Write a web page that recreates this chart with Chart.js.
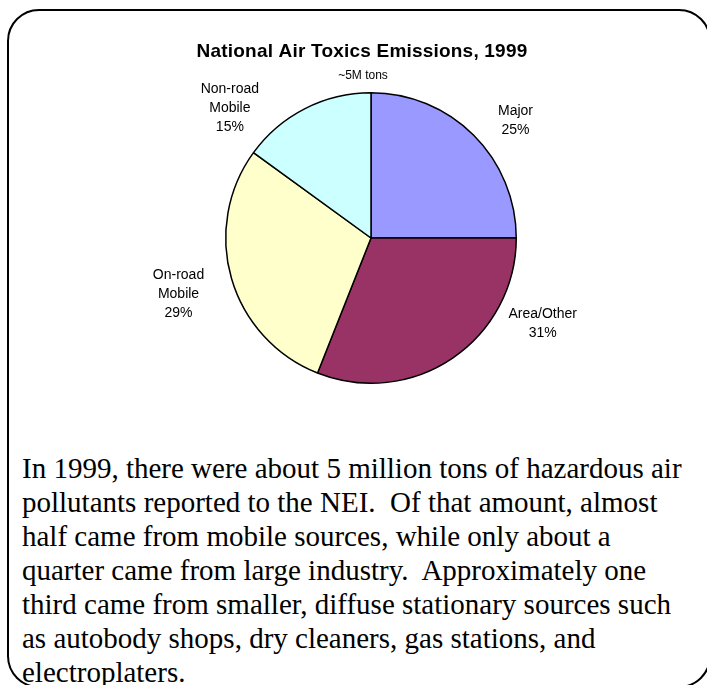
<!DOCTYPE html>
<html>
<head>
<meta charset="utf-8">
<script src="https://cdn.jsdelivr.net/npm/chart.js@4.4.1/dist/chart.umd.min.js"></script>
<style>
    html, body { margin: 0; padding: 0; background: #fff; }
    body { width: 707px; height: 685px; position: relative; overflow: hidden; }
    .frame {
        position: absolute; left: 7px; top: 9px; width: 704px; height: 679px;
        box-sizing: border-box; border: 2.5px solid #000; border-radius: 32px;
    }
    .chart__box { position: absolute; left: 0; top: 0; width: 707px; height: 440px; }
    .summary {
        position: absolute; left: 22px; top: 451px; margin: 0;
        font-family: "Liberation Serif", "Times New Roman", serif;
        font-size: 29px; line-height: 34px; color: #000; white-space: pre;
    }
</style>
</head>
<body>
<div class="frame"></div>
<div class="chart__box"><canvas id="toxicsChart" width="707" height="440"></canvas></div>
<p class="summary">In 1999, there were about 5 million tons of hazardous air
pollutants reported to the NEI.  Of that amount, almost
half came from mobile sources, while only about a
quarter came from large industry.  Approximately one
third came from smaller, diffuse stationary sources such
as autobody shops, dry cleaners, gas stations, and
electroplaters.</p>
<script>
var sources = [['Major'], ['Area/Other'], ['On-road', 'Mobile'], ['Non-road', 'Mobile']];
var shares = [25, 31, 29, 15];
var sliceColors = ['#9999FF', '#993366', '#FFFFCC', '#CCFFFF'];

document.addEventListener('DOMContentLoaded', function () {
    var ctx = document.getElementById('toxicsChart').getContext('2d');

    // where Excel put each label: shift from slice middle (deg) and distance in radii
    var placement = [[6, 1.28], [-29.4, 1.32], [0, 1.38], [-20.4, 1.32]];

    var textPlugin = {
        id: 'textPlugin',
        afterDraw: function (chart) {
            var c = chart.ctx;
            var arcs = chart.getDatasetMeta(0).data;
            c.save();
            c.fillStyle = '#000';
            c.textAlign = 'center';
            c.textBaseline = 'middle';

            c.font = 'bold 19px "Liberation Sans", Arial, sans-serif';
            c.letterSpacing = '0.2px';
            c.fillText('National Air Toxics Emissions, 1999', 362, 52);
            c.letterSpacing = '0px';
            c.font = '12px "Liberation Sans", Arial, sans-serif';
            c.fillText('~5M tons', 363, 76);

            c.font = '14px "Liberation Sans", Arial, sans-serif';
            arcs.forEach(function (arc, i) {
                var mid = (arc.startAngle + arc.endAngle) / 2 + placement[i][0] * Math.PI / 180;
                var dist = arc.outerRadius * placement[i][1];
                var x = arc.x + Math.cos(mid) * dist;
                var y = arc.y + Math.sin(mid) * dist;
                var lines = sources[i].concat([shares[i] + '%']);
                var top = y - (lines.length - 1) * 19 / 2;
                lines.forEach(function (line, j) {
                    c.fillText(line, x, top + j * 19);
                });
            });
            c.restore();
        }
    };

    var toxicsChart = new Chart(ctx, {
        type: 'pie',
        data: {
            labels: sources.map(function (s) { return s.join(' '); }),
            datasets: [{
                data: shares,
                backgroundColor: sliceColors,
                borderColor: '#000',
                borderWidth: 1.5
            }]
        },
        options: {
            responsive: false,
            animation: false,
            layout: { padding: { top: 92, left: 225, right: 190, bottom: 56 } },
            plugins: {
                legend: { display: false },
                tooltip: { enabled: false }
            }
        },
        plugins: [textPlugin]
    });
});
</script>
</body>
</html>
